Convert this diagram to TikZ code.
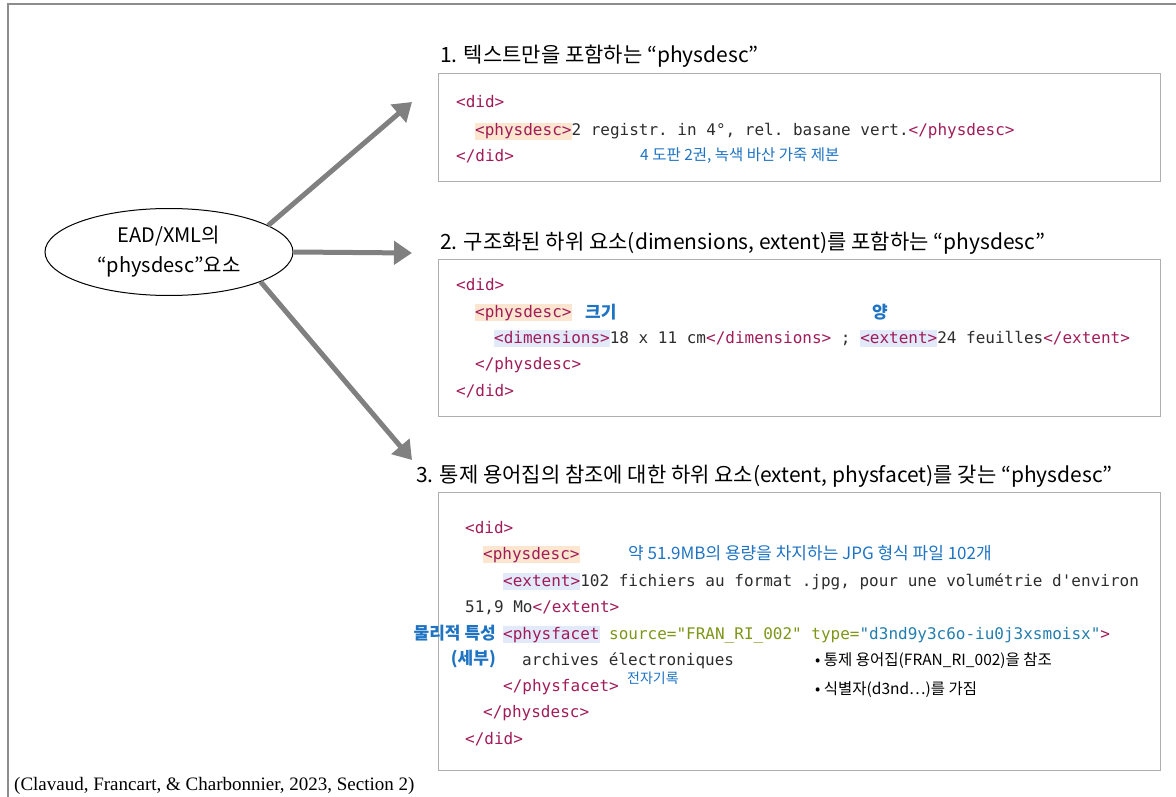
\documentclass[tikz,border=0pt]{standalone}
\usepackage{fontspec}
\usepackage{xcolor}
\usetikzlibrary{arrows.meta,shapes.geometric}
\setmainfont{Noto Sans CJK KR}
\setmonofont{DejaVu Sans Mono}
\newfontfamily\capfont{Liberation Serif}
\definecolor{tagcol}{RGB}{160,28,88}
\definecolor{attrA}{RGB}{125,150,25}
\definecolor{attrB}{RGB}{35,125,175}
\definecolor{notecol}{RGB}{30,115,195}
\definecolor{hlorange}{RGB}{252,230,208}
\definecolor{hlblue}{RGB}{226,233,248}
\definecolor{boxgray}{RGB}{175,175,175}
\definecolor{arrowgray}{RGB}{128,128,128}
\definecolor{framegray}{RGB}{140,140,140}
\definecolor{codetext}{RGB}{45,45,45}
\newcommand{\tg}[1]{\textcolor{tagcol}{#1}}
\newcommand{\hlo}[1]{{\fboxsep=0pt\colorbox{hlorange}{\rule[-4pt]{0pt}{17pt}\tg{#1}}}}
\newcommand{\hlb}[1]{{\fboxsep=0pt\colorbox{hlblue}{\rule[-4pt]{0pt}{17pt}\tg{#1}}}}
\tikzset{
codebox/.style = {rectangle, draw=boxgray, line width=1.2pt, minimum width=722pt,
                  anchor=north west, inner sep=0pt},
codeline/.style = {anchor=west, inner sep=0pt, text height=13pt, text depth=1pt,
                   font=\ttfamily\fontsize{16}{20}\selectfont, text=codetext},
title/.style = {anchor=west, inner sep=0pt, font=\fontsize{21}{24}\selectfont},
note/.style = {anchor=west, inner sep=0pt, text=notecol, font=\fontsize{#1}{#1}\selectfont},
note/.default = 15.5,
bigarrow/.style = {draw=arrowgray, line width=5pt, -{Triangle[length=18pt,width=23pt]}}
}

\begin{document}
\begin{tikzpicture}[x=1pt,y=-1pt]
\useasboundingbox (0,0) rectangle (1176,797);
\draw[framegray, line width=1.5pt] (1176,4) -- (8,4) -- (8,797);

\node[ellipse, draw=black, line width=1pt, minimum width=248pt, minimum height=87pt,
      align=center, font=\fontsize{20}{30}\selectfont] (elem) at (169,252) {EAD/XML의\\“physdesc”요소};
\coordinate (tipA) at (412,102);
\coordinate (tipB) at (412,253);
\coordinate (tipC) at (412,460);

% example 1
\node[title] (titleA) at (440,56) {1. 텍스트만을 포함하는 “physdesc”};
\node[codebox, minimum height=108pt] (boxA) at (438,73) {};
\node[codeline] (a1) at (456,102) {\tg{<did>}};
\node[codeline] (a2) at (475,130) {\hlo{<physdesc>}2 registr. in 4°, rel. basane vert.\tg{</physdesc>}};
\node[codeline] (a3) at (456,156) {\tg{</did>}};
\node[note] (noteA) at (640,156) {4 도판 2권, 녹색 바산 가죽 제본};

% example 2
\node[title] (titleB) at (440,243) {2. 구조화된 하위 요소(dimensions, extent)를 포함하는 “physdesc”};
\node[codebox, minimum height=157pt] (boxB) at (438,259) {};
\node[codeline] (b1) at (456,284) {\tg{<did>}};
\node[codeline] (b2) at (475,311) {\hlo{<physdesc>}};
\node[codeline] (b3) at (494,337) {\hlb{<dimensions>}18 x 11 cm\tg{</dimensions>} ; \hlb{<extent>}24 feuilles\tg{</extent>}};
\node[codeline] (b4) at (475,363) {\tg{</physdesc>}};
\node[codeline] (b5) at (456,390) {\tg{</did>}};
\node[note=17, font=\bfseries\fontsize{17}{17}\selectfont] (sizeB) at (585,312) {크기};
\node[note=17, font=\bfseries\fontsize{17}{17}\selectfont] (qtyB) at (872,312) {양};

% example 3
\node[title] (titleC) at (416,476) {3. 통제 용어집의 참조에 대한 하위 요소(extent, physfacet)를 갖는 “physdesc”};
\node[codebox, minimum height=278pt] (boxC) at (438,492) {};
\node[codeline] (c1) at (465,527) {\tg{<did>}};
\node[codeline] (c2) at (483,553) {\hlo{<physdesc>}};
\node[codeline] (c3) at (503,580) {\hlb{<extent>}102 fichiers au format .jpg, pour une volumétrie d\textquotesingle environ};
\node[codeline] (c4) at (465,606) {51,9 Mo\tg{</extent>}};
\node[codeline] (c5) at (503,633) {\hlb{<physfacet} \textcolor{attrA}{source="FRAN\_RI\_002" type=}\textcolor{attrB}{"d3nd9y3c6o-iu0j3xsmoisx"}\tg{>}};
\node[codeline] (c6) at (522,659) {archives électroniques};
\node[codeline] (c7) at (503,685) {\tg{</physfacet>}};
\node[codeline] (c8) at (483,711) {\tg{</physdesc>}};
\node[codeline] (c9) at (465,738) {\tg{</did>}};
\node[note=17] (noteC) at (628,553) {약 51.9MB의 용량을 차지하는 JPG 형식 파일 102개};
\node[note=17, anchor=east, font=\bfseries\fontsize{17}{17}\selectfont] (facetC) at (496,633) {물리적 특성};
\node[note=17, anchor=east, font=\bfseries\fontsize{17}{17}\selectfont] (detailC) at (496,659) {(세부)};
\node[note=14] (elecC) at (627,678) {전자기록};
\node[anchor=west, inner sep=0pt, font=\fontsize{15.5}{16}\selectfont] (refC) at (815,661) {• 통제 용어집(FRAN\_RI\_002)을 참조};
\node[anchor=west, inner sep=0pt, font=\fontsize{15.5}{16}\selectfont] (idC) at (815,690) {• 식별자(d3nd⋯)를 가짐};

\draw[bigarrow] (elem.15) -- (tipA);
\draw[bigarrow] (elem.east) -- (tipB);
\draw[bigarrow] (elem.-18) -- (tipC);

\node[anchor=west, inner sep=0pt, font=\capfont\fontsize{19}{19}\selectfont] (cite) at (14,786) {(Clavaud, Francart, \& Charbonnier, 2023, Section 2)};
\end{tikzpicture}
\end{document}
